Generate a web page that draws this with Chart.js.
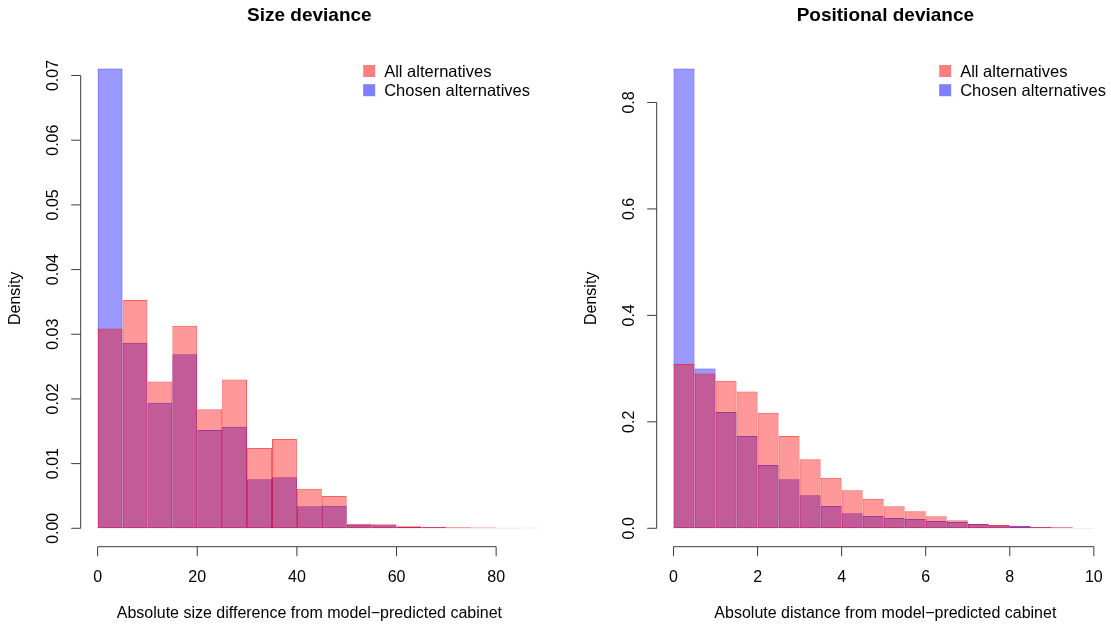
<!DOCTYPE html>
<html>
<head>
<meta charset="utf-8">
<title>Size and positional deviance</title>
<script src="https://cdn.jsdelivr.net/npm/chart.js@4/dist/chart.umd.min.js"></script>
<style>
  html, body { margin: 0; padding: 0; background: #ffffff; width: 1111px; height: 628px; overflow: hidden; }
  canvas { position: absolute; top: 0; }
  #sizeChart { left: 0; }
  #posChart { left: 576px; }
</style>
</head>
<body>
<canvas id="sizeChart" width="576" height="628"></canvas>
<canvas id="posChart" width="576" height="628"></canvas>
<script>
// ---- Size deviance: histogram bins of width 5 ----
const sizeBreaks = [0, 5, 10, 15, 20, 25, 30, 35, 40, 45, 50, 55, 60, 65, 70, 75, 80, 85, 90];
const sizeAll = [0.0309, 0.0353, 0.0227, 0.0313, 0.0184, 0.0230, 0.0124, 0.0138, 0.0061, 0.0050,
                 0.00071, 0.00062, 0.00030, 0.00022, 0.00016, 0.00012, 0.00010, 0.00010];
const sizeChosen = [0.0711, 0.0287, 0.0194, 0.0269, 0.0152, 0.0157, 0.0076, 0.0079, 0.0034, 0.0035,
                    0.00056, 0.00046, 0.00022, 0.00018, 0.00010, 0.00008, 0.00006, 0];
const sizeXTicks = [0, 20, 40, 60, 80];
const sizeYTicks = [0, 0.01, 0.02, 0.03, 0.04, 0.05, 0.06, 0.07];
const sizeYTickLabels = ['0.00', '0.01', '0.02', '0.03', '0.04', '0.05', '0.06', '0.07'];
const sizeXLimits = [-3.4, 88.4];

// ---- Positional deviance: histogram bins of width 0.5 ----
const posBreaks = [0, 0.5, 1, 1.5, 2, 2.5, 3, 3.5, 4, 4.5, 5, 5.5, 6, 6.5, 7, 7.5, 8, 8.5, 9, 9.5, 10];
const posAll = [0.3087, 0.2910, 0.2772, 0.2571, 0.2170, 0.1733, 0.1295, 0.0952, 0.0715, 0.0557,
                0.0414, 0.0320, 0.0226, 0.0151, 0.0087, 0.0062, 0.0030, 0.0025, 0.0020, 0.0008];
const posChosen = [0.8640, 0.3004, 0.2183, 0.1732, 0.1191, 0.0922, 0.0623, 0.0420, 0.0282, 0.0232,
                   0.0194, 0.0175, 0.0137, 0.0119, 0.0081, 0.0056, 0.0043, 0.0020, 0.0015, 0.0006];
const posXTicks = [0, 2, 4, 6, 8, 10];
const posYTicks = [0, 0.2, 0.4, 0.6, 0.8];
const posYTickLabels = ['0.0', '0.2', '0.4', '0.6', '0.8'];
const posXLimits = [-0.4, 10.48];

const seriesNames = ['All alternatives', 'Chosen alternatives'];

// semi-transparent fills; edges use the doubled alpha so outlines read darker
const RED_FILL = 'rgba(255, 0, 0, 0.4)';
const RED_EDGE = 'rgba(255, 0, 0, 0.64)';
const RED_KEY = 'rgba(255, 0, 0, 0.5)';
const BLUE_FILL = 'rgba(0, 0, 255, 0.4)';
const BLUE_EDGE = 'rgba(0, 0, 255, 0.64)';
const BLUE_KEY = 'rgba(0, 0, 255, 0.5)';

const FONT = '"Liberation Sans", Arial, Helvetica, sans-serif';
const TICK_LEN = 9.5;

// one {x, y} point per bin, placed at the bin midpoint
function binPoints(breaks, dens) {
  return dens.map((d, i) => ({ x: (breaks[i] + breaks[i + 1]) / 2, y: d }));
}

// y-range padded by 4% on each side, as in base-R plots
function paddedRange(values) {
  const hi = Math.max(...values);
  const pad = 0.04 * hi;
  return [-pad, hi + pad];
}

// base-R style frame: axes spanning first..last tick, outward ticks,
// rotated y labels, titles and a borderless legend in the top-right corner
const rStyleFrame = {
  id: 'rStyleFrame',
  afterDraw(chart, args, o) {
    const { ctx, chartArea: a } = chart;
    const xs = chart.scales.x;
    const ys = chart.scales.y;
    ctx.save();
    ctx.strokeStyle = '#3c3c3c';
    ctx.lineWidth = 1;
    ctx.fillStyle = '#000000';

    // x axis
    const axY = a.bottom;
    ctx.beginPath();
    ctx.moveTo(xs.getPixelForValue(o.xTicks[0]), axY);
    ctx.lineTo(xs.getPixelForValue(o.xTicks[o.xTicks.length - 1]), axY);
    o.xTicks.forEach(v => {
      const px = xs.getPixelForValue(v);
      ctx.moveTo(px, axY);
      ctx.lineTo(px, axY + TICK_LEN);
    });
    // y axis
    const axX = a.left;
    ctx.moveTo(axX, ys.getPixelForValue(o.yTicks[0]));
    ctx.lineTo(axX, ys.getPixelForValue(o.yTicks[o.yTicks.length - 1]));
    o.yTicks.forEach(v => {
      const py = ys.getPixelForValue(v);
      ctx.moveTo(axX, py);
      ctx.lineTo(axX - TICK_LEN, py);
    });
    ctx.stroke();

    ctx.font = '16px ' + FONT;
    ctx.textAlign = 'center';
    ctx.textBaseline = 'alphabetic';
    o.xTicks.forEach(v => {
      ctx.fillText(String(v), xs.getPixelForValue(v), axY + 35);
    });
    o.yTicks.forEach((v, i) => {
      ctx.save();
      ctx.translate(axX - 22.5, ys.getPixelForValue(v));
      ctx.rotate(-Math.PI / 2);
      ctx.fillText(o.yTickLabels[i], 0, 0);
      ctx.restore();
    });

    // axis titles
    ctx.fillText(o.xTitle, (a.left + a.right) / 2, axY + 71);
    ctx.save();
    ctx.translate(axX - 61, (a.top + a.bottom) / 2);
    ctx.rotate(-Math.PI / 2);
    ctx.fillText(o.yTitle, 0, 0);
    ctx.restore();

    // main title
    ctx.font = 'bold 19px ' + FONT;
    ctx.fillText(o.title, (a.left + a.right) / 2, 21);

    // legend
    ctx.font = '16.5px ' + FONT;
    ctx.textAlign = 'left';
    const labels = chart.data.datasets.map(d => d.label);
    const w = Math.max(...labels.map(t => ctx.measureText(t).width));
    const textX = a.right - 8 - w;
    labels.forEach((t, i) => {
      const cy = a.top + 21 + i * 19.2;
      ctx.fillStyle = chart.data.datasets[i].keyColor;
      ctx.fillRect(textX - 21, cy - 6, 12, 12);
      ctx.fillStyle = '#000000';
      ctx.fillText(t, textX, cy + 5.8);
    });
    ctx.restore();
  }
};

function histogram(canvasId, cfg) {
  const yRange = paddedRange(cfg.chosen.concat(cfg.all));
  return new Chart(document.getElementById(canvasId), {
    type: 'bar',
    data: {
      datasets: [
        {
          label: seriesNames[0],
          data: binPoints(cfg.breaks, cfg.all),
          backgroundColor: RED_FILL,
          borderColor: RED_EDGE,
          keyColor: RED_KEY
        },
        {
          label: seriesNames[1],
          data: binPoints(cfg.breaks, cfg.chosen),
          backgroundColor: BLUE_FILL,
          borderColor: BLUE_EDGE,
          keyColor: BLUE_KEY
        }
      ]
    },
    options: {
      responsive: false,
      animation: false,
      devicePixelRatio: 1,
      layout: { padding: { left: 80.7, right: 38, top: 50, bottom: 81.3 } },
      datasets: {
        bar: {
          grouped: false,
          barPercentage: 1,
          categoryPercentage: 1,
          borderWidth: 1,
          borderSkipped: false,
          inflateAmount: 0,
          clip: 0
        }
      },
      scales: {
        x: {
          type: 'linear',
          display: false,
          offset: false,
          min: cfg.xLimits[0],
          max: cfg.xLimits[1],
          afterBuildTicks: s => { s.ticks = cfg.xTicks.map(v => ({ value: v })); }
        },
        y: {
          type: 'linear',
          display: false,
          min: yRange[0],
          max: yRange[1],
          afterBuildTicks: s => { s.ticks = cfg.yTicks.map(v => ({ value: v })); }
        }
      },
      plugins: {
        legend: { display: false },
        title: { display: false },
        tooltip: { enabled: false },
        rStyleFrame: {
          title: cfg.title,
          xTitle: cfg.xTitle,
          yTitle: 'Density',
          xTicks: cfg.xTicks,
          yTicks: cfg.yTicks,
          yTickLabels: cfg.yTickLabels
        }
      }
    },
    plugins: [rStyleFrame]
  });
}

histogram('sizeChart', {
  breaks: sizeBreaks,
  all: sizeAll,
  chosen: sizeChosen,
  xTicks: sizeXTicks,
  yTicks: sizeYTicks,
  yTickLabels: sizeYTickLabels,
  xLimits: sizeXLimits,
  title: 'Size deviance',
  xTitle: 'Absolute size difference from model\u2212predicted cabinet'
});

histogram('posChart', {
  breaks: posBreaks,
  all: posAll,
  chosen: posChosen,
  xTicks: posXTicks,
  yTicks: posYTicks,
  yTickLabels: posYTickLabels,
  xLimits: posXLimits,
  title: 'Positional deviance',
  xTitle: 'Absolute distance from model\u2212predicted cabinet'
});
</script>
</body>
</html>
